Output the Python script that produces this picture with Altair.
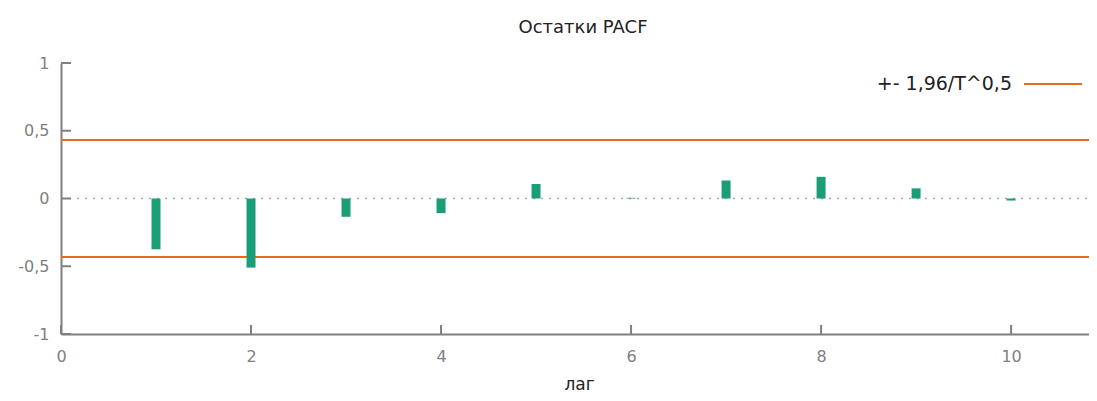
import altair as alt
import pandas as pd

lags = [1, 2, 3, 4, 5, 6, 7, 8, 9, 10]
pacf = [-0.375, -0.51, -0.135, -0.108, 0.107, 0.005, 0.133, 0.16, 0.075, -0.015]
bound = 0.432
y_ticks = [-1, -0.5, 0, 0.5, 1]
x_ticks = [0, 2, 4, 6, 8, 10]
legend_label = "+- 1,96/T^0,5"
title = "Остатки PACF"
x_title = "лаг"

W = 1028
H = 271
FONT = "DejaVu Sans"
GREEN = "#1b9e77"
ORANGE = "#e66c1c"
GRAY = "#808080"

bars_df = pd.DataFrame({"lag": lags, "pacf": pacf, "zero": [0.0] * len(lags)})
bounds_df = pd.DataFrame({"b": [bound, -bound]})
yt_df = pd.DataFrame({"v": y_ticks})
xt_df = pd.DataFrame({"v": x_ticks})
zero_df = pd.DataFrame({"v": [0.0]})
leg_df = pd.DataFrame({"label": [legend_label]})

xs = alt.Scale(domain=[0, 10.82], nice=False, zero=False, padding=0)
ys = alt.Scale(domain=[-1, 1], nice=False, padding=0)

lbl = "(datum.value < 0 ? '-' : '') + replace(format(abs(datum.value), '~g'), '.', ',')"

x_axis = alt.Axis(values=x_ticks, ticks=False, domain=True, domainColor=GRAY,
                  domainWidth=2, grid=False, labelFont=FONT, labelFontSize=16,
                  labelColor=GRAY, labelPadding=14, title=x_title,
                  titleFont=FONT, titleFontSize=17, titleFontWeight="normal",
                  titleColor="#222222", titlePadding=12, titleX=518,
                  labelFlush=False, labelExpr=lbl)
y_axis = alt.Axis(values=y_ticks, ticks=False, domain=True, domainColor=GRAY,
                  domainWidth=2, grid=False, labelFont=FONT, labelFontSize=16,
                  labelColor=GRAY, labelPadding=12, title=None, labelExpr=lbl)

base_axes = alt.Chart(zero_df).mark_point(opacity=0).encode(
    x=alt.X("v:Q", scale=xs, axis=x_axis),
    y=alt.Y("v:Q", scale=ys, axis=y_axis),
)

zero_line = alt.Chart(zero_df).mark_rule(
    color="#a8a8a8", strokeWidth=1.5, strokeDash=[2, 6]
).encode(y=alt.Y("v:Q", scale=ys), x=alt.value(0), x2=alt.value(W))

ytick_marks = alt.Chart(yt_df).mark_rule(color=GRAY, strokeWidth=2).encode(
    y=alt.Y("v:Q", scale=ys), x=alt.value(0), x2=alt.value(10))

xtick_marks = alt.Chart(xt_df).mark_rule(color=GRAY, strokeWidth=2).encode(
    x=alt.X("v:Q", scale=xs), y=alt.value(H), y2=alt.value(H - 9))

bound_lines = alt.Chart(bounds_df).mark_rule(color=ORANGE, strokeWidth=2).encode(
    y=alt.Y("b:Q", scale=ys), x=alt.value(0), x2=alt.value(W))

bars = alt.Chart(bars_df).mark_bar(color=GREEN, width=9).encode(
    x=alt.X("lag:Q", scale=xs),
    y=alt.Y("pacf:Q", scale=ys),
    y2="zero:Q",
)

leg_text = alt.Chart(leg_df).mark_text(
    align="right", baseline="middle", font=FONT, fontSize=19, color="#222222"
).encode(text="label:N", x=alt.value(951), y=alt.value(21))

leg_line = alt.Chart(leg_df).mark_rule(color=ORANGE, strokeWidth=2).encode(
    x=alt.value(963), x2=alt.value(1021), y=alt.value(21))

chart = alt.layer(
    base_axes, zero_line, bound_lines, bars, ytick_marks, xtick_marks, leg_text, leg_line
).properties(
    width=W, height=H,
    title=alt.TitleParams(title, font=FONT, fontSize=18, fontWeight="normal",
                          color="#222222", anchor="middle", offset=18, dx=8),
    autosize=alt.AutoSizeParams(type="none"),
    padding={"left": 53, "top": 55, "right": 0, "bottom": 58},
).configure_view(stroke=None)

chart.save("out.html", embed_options={"renderer": "svg", "actions": False})
